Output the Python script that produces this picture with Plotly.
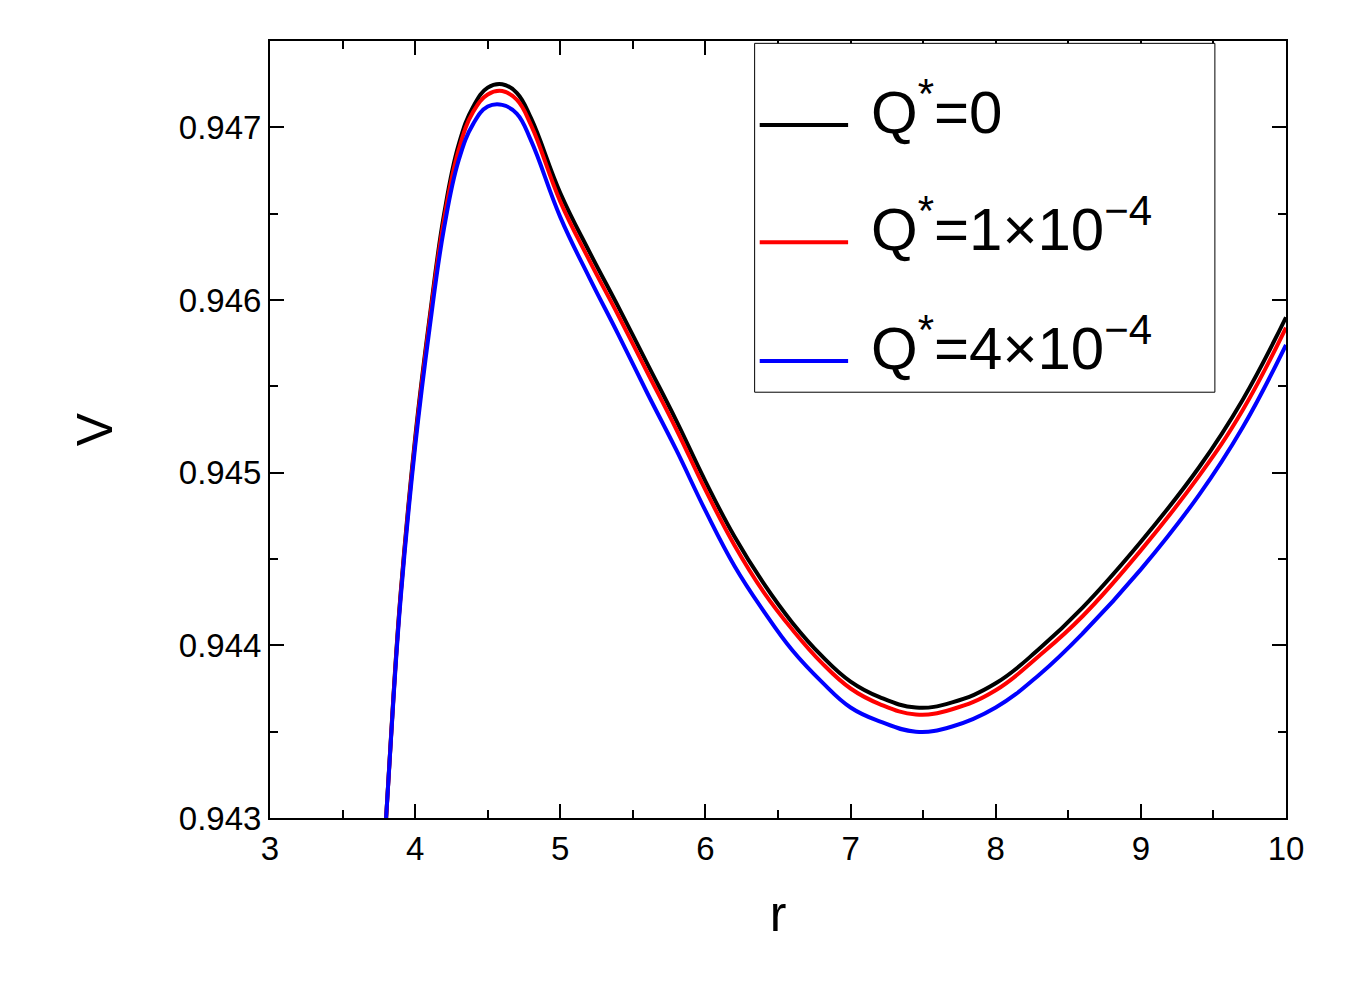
import plotly.graph_objects as go

r = [3.8,3.85,3.9,4.0,4.1,4.2,4.3,4.4,4.5,4.6,4.7,4.8,5.0,5.2,5.4,5.6,5.8,6.0,6.2,6.4,6.6,6.8,7.0,7.2,7.45,7.7,8.0,8.3,8.6,9.0,9.4,9.7,10.0]
v_q0 = [0.94300,0.94370,0.94430,0.94520,0.94590,0.94650,0.94690,0.94712,0.94723,0.94725,0.94720,0.94705,0.94662,0.94628,0.94596,0.94563,0.94530,0.94495,0.94463,0.94436,0.94413,0.94394,0.94379,0.94370,0.94364,0.94367,0.94378,0.94398,0.94422,0.94460,0.94503,0.94542,0.94590]
v_q1 = [0.94300,0.94369,0.94429,0.94518,0.94588,0.94647,0.94687,0.94709,0.94719,0.94721,0.94716,0.94701,0.94657,0.94623,0.94591,0.94558,0.94525,0.94490,0.94458,0.94431,0.94409,0.94390,0.94375,0.94366,0.94360,0.94363,0.94374,0.94394,0.94417,0.94455,0.94498,0.94536,0.94584]
v_q4 = [0.94300,0.94368,0.94427,0.94515,0.94584,0.94642,0.94681,0.94702,0.94712,0.94713,0.94708,0.94692,0.94648,0.94613,0.94580,0.94546,0.94513,0.94478,0.94446,0.94420,0.94397,0.94379,0.94364,0.94356,0.94350,0.94353,0.94364,0.94383,0.94407,0.94444,0.94487,0.94526,0.94574]
names = ["Q<sup>*</sup>=0", "Q<sup>*</sup>=1×10<sup>−4</sup>", "Q<sup>*</sup>=4×10<sup>−4</sup>"]
colors = ["black", "red", "blue"]

fig = go.Figure()
for y, c in zip([v_q0, v_q1, v_q4], colors):
    fig.add_trace(go.Scatter(x=r, y=y, mode="lines", line=dict(color=c, width=4, shape="spline", smoothing=1.2), showlegend=False))

ax = dict(showline=True, linecolor="black", linewidth=2, mirror="allticks", ticks="inside",
          ticklen=14, tickwidth=2, tickcolor="black", showgrid=False, zeroline=False,
          tickfont=dict(size=33, color="black", family="Liberation Sans"),
          minor=dict(ticks="inside", ticklen=8, tickwidth=2, tickcolor="black"))
fig.update_xaxes(**ax, range=[3, 10], dtick=1, minor_dtick=0.5,
                 title=dict(text="r", font=dict(size=50, color="black", family="Liberation Sans"), standoff=30))
fig.update_yaxes(**ax, range=[0.943, 0.9475], dtick=0.001, tickformat=".3f", minor_dtick=0.0005,
                 title=dict(text="V", font=dict(size=50, color="black", family="Liberation Sans"), standoff=50))

fig.add_shape(type="rect", xref="paper", yref="paper", x0=0.477, x1=0.930, y0=0.548, y1=0.997,
              line=dict(color="black", width=1), fillcolor="white", layer="above")
for yp, c, n in zip([0.892, 0.741, 0.588], colors, names):
    fig.add_shape(type="line", xref="paper", yref="paper", x0=0.482, x1=0.569, y0=yp, y1=yp,
                  line=dict(color=c, width=4))
    fig.add_annotation(xref="paper", yref="paper", x=0.590, y=yp + 0.022, xanchor="left", yanchor="middle",
                       text=n, showarrow=False, font=dict(size=60, color="black", family="Liberation Sans"))

fig.update_layout(width=1356, height=999, plot_bgcolor="white", paper_bgcolor="white",
                  margin=dict(l=262, r=78, t=33, b=189))
fig.write_html("out.html")
